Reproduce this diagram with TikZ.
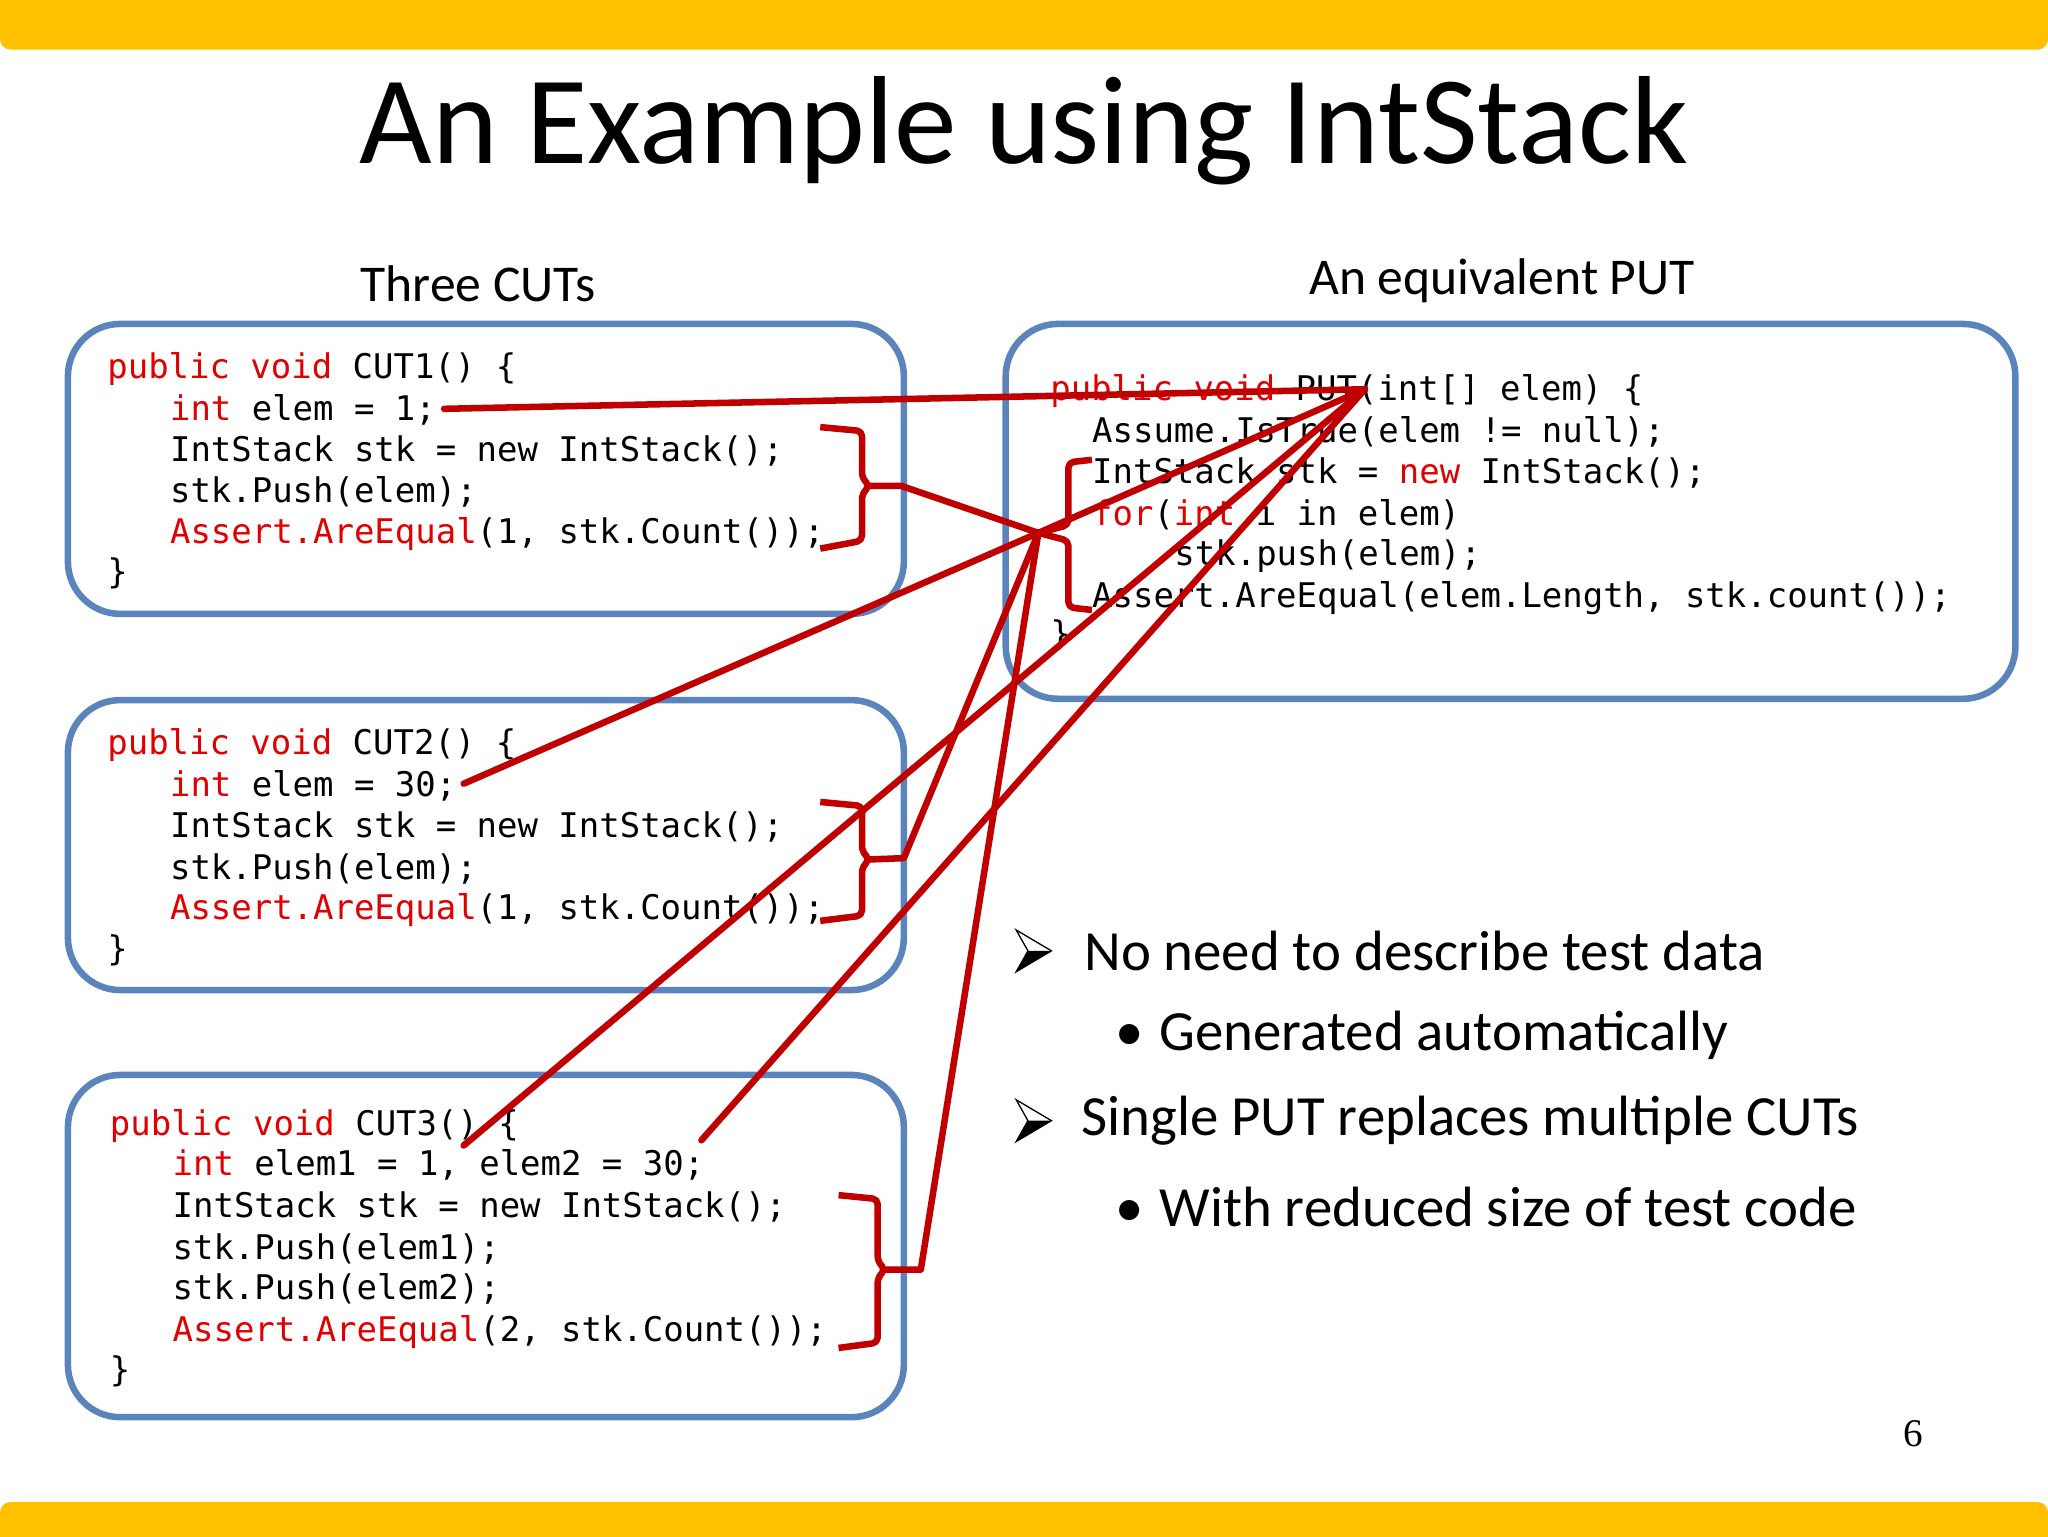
\documentclass[tikz,border=0pt]{standalone}
\usepackage{fontspec}
\setmainfont{Carlito}
\newfontfamily\codefont{DejaVu Sans Mono}
\newfontfamily\numfont{Liberation Serif}
\definecolor{slideyellow}{HTML}{FFC000}
\definecolor{bbox}{HTML}{5B84BD}
\definecolor{cred}{HTML}{E00000}
\definecolor{lred}{HTML}{C00000}
\newcommand{\kw}[1]{\textcolor{cred}{#1}}
\begin{document}
\begin{tikzpicture}[x=1pt,y=-1pt,
  codebox/.style={draw=bbox,line width=5pt,rounded corners=40pt},
  cl/.style={anchor=base west,inner sep=0pt,font=\codefont\fontsize{26}{26}\selectfont},
  bul/.style={anchor=west,inner sep=0pt,font=\fontsize{43.5}{43.5}\selectfont},
  link/.style={draw=lred,line width=5pt,line join=round,line cap=round},
  brk/.style={draw=lred,line width=5pt,line join=round,rounded corners=4pt}]
\useasboundingbox (0,0) rectangle (1568,1176);
\fill[fill=slideyellow,rounded corners=8pt] (0,-10) rectangle (1568,38);
\fill[fill=slideyellow,rounded corners=8pt] (0,1150) rectangle (1568,1186);
\node[font=\fontsize{96}{96}\selectfont,inner sep=0pt] (title) at (784,100) {An Example using IntStack};
\node[font=\fontsize{39.5}{39.5}\selectfont,inner sep=0pt] (h1) at (366,217) {Three CUTs};
\node[font=\fontsize{39.5}{39.5}\selectfont,inner sep=0pt] (h2) at (1150,215) {An equivalent PUT};
% boxes
\draw[codebox] (52,248) rectangle (692,470);
\draw[codebox] (52,536) rectangle (692,758);
\draw[codebox] (52,823) rectangle (692,1085);
\draw[codebox] (770,248) rectangle (1543,535);
% CUT1
\node[cl] (a1) at (82,290) {\kw{public void} CUT1() \{};
\node[cl] (a2) at (130,322) {\kw{int} elem = 1;};
\node[cl] (a3) at (130,353) {IntStack stk = new IntStack();};
\node[cl] (a4) at (130,385) {stk.Push(elem);};
\node[cl] (a5) at (130,416) {\kw{Assert.AreEqual}(1, stk.Count());};
\node[cl] (a6) at (82,447) {\}};
% CUT2
\node[cl] (b1) at (82,578) {\kw{public void} CUT2() \{};
\node[cl] (b2) at (130,610) {\kw{int} elem = 30;};
\node[cl] (b3) at (130,641) {IntStack stk = new IntStack();};
\node[cl] (b4) at (130,673) {stk.Push(elem);};
\node[cl] (b5) at (130,704) {\kw{Assert.AreEqual}(1, stk.Count());};
\node[cl] (b6) at (82,735) {\}};
% CUT3
\node[cl] (c1) at (84,869) {\kw{public void} CUT3() \{};
\node[cl] (c2) at (132,900) {\kw{int} elem1 = 1, elem2 = 30;};
\node[cl] (c3) at (132,932) {IntStack stk = new IntStack();};
\node[cl] (c4) at (132,964) {stk.Push(elem1);};
\node[cl] (c5) at (132,995) {stk.Push(elem2);};
\node[cl] (c6) at (132,1027) {\kw{Assert.AreEqual}(2, stk.Count());};
\node[cl] (c7) at (84,1058) {\}};
% PUT
\node[cl] (p1) at (804,307) {\kw{public void} PUT(int[] elem) \{};
\node[cl] (p2) at (836,339) {Assume.IsTrue(elem != null);};
\node[cl] (p3) at (836,370) {IntStack stk = \kw{new} IntStack();};
\node[cl] (p4) at (836,402) {\kw{for}(\kw{int} i in elem)};
\node[cl] (p5) at (899,433) {stk.push(elem);};
\node[cl] (p6) at (836,465) {Assert.AreEqual(elem.Length, stk.count());};
\node[cl] (p7) at (804,494) {\}};
% bullets
\foreach \yy/\nm in {728/ar1,858/ar2}{
  \coordinate (\nm) at (792,\yy);
  \fill[black] (778,\yy+16) -- (805,\yy) -- (787,\yy) -- cycle;
  \draw[black,line width=1pt,line join=miter] (778,\yy-16) -- (805,\yy) -- (778,\yy+16) -- (787,\yy) -- cycle;
}
\node[bul] (t1) at (830,728) {No need to describe test data};
\node[bul] (t2) at (854,793) {•\hspace{12pt}Generated automatically};
\node[bul] (t3) at (828,858) {Single PUT replaces multiple CUTs};
\node[bul] (t4) at (854,924) {•\hspace{12pt}With reduced size of test code};
\node[font=\numfont\fontsize{30}{30}\selectfont,inner sep=0pt] (pg) at (1465,1098) {6};
% connector coordinates
\coordinate (P) at (1045,298);
\coordinate (hub) at (795,408);
\coordinate (e1) at (340,313);
\coordinate (e2) at (355,600);
\coordinate (e3a) at (355,877);
\coordinate (e3b) at (537,873);
\coordinate (n1) at (666,372);
\coordinate (n2) at (666,658);
\coordinate (n3) at (678,972);
% brackets
\draw[brk] (628,327) -- (660,330) -- (660,366) -- (n1) -- (660,378) -- (660,414) -- (628,420);
\draw[brk] (628,614) -- (660,617) -- (660,652) -- (n2) -- (660,664) -- (660,701) -- (628,705);
\draw[brk] (642,915) -- (672,918) -- (672,966) -- (n3) -- (672,978) -- (672,1028) -- (642,1032);
\draw[brk] (836,352) -- (818,354) -- (818,402) -- (hub) -- (818,414) -- (818,465) -- (836,467);
% links
\draw[link] (e1) -- (P);
\draw[link] (hub) -- (P);
\draw[link] (n1) -- (690,372) -- (hub);
\draw[link] (e2) -- (hub);
\draw[link] (n2) -- (692,657) -- (hub);
\draw[link] (n3) -- (705,972) -- (hub);
\draw[link] (e3a) -- (P);
\draw[link] (e3b) -- (P);
\end{tikzpicture}
\end{document}
